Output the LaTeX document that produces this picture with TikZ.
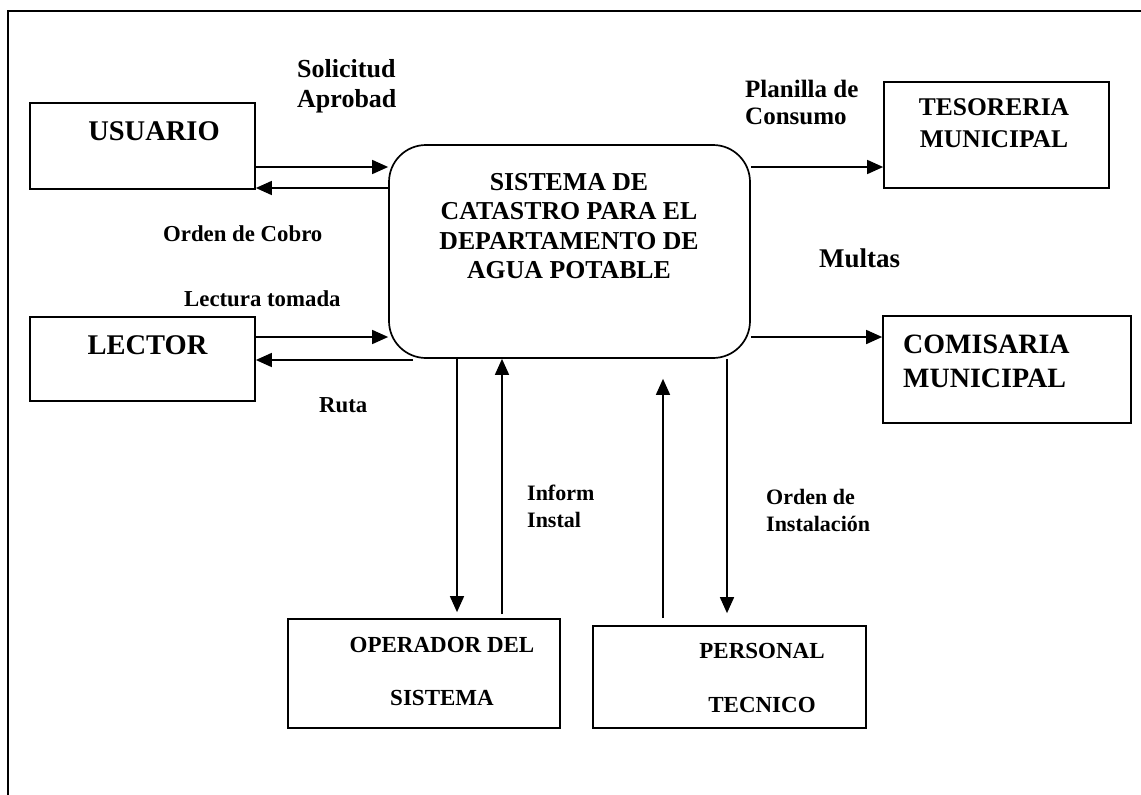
\documentclass[tikz,border=0pt]{standalone}
\usepackage{fontspec}
\setmainfont{Liberation Serif}
\usetikzlibrary{arrows.meta}
\begin{document}
\begin{tikzpicture}[x=1pt,y=-1pt,
  box/.style={draw, line width=1.7pt, rectangle, inner sep=0pt},
  arr/.style={-{Triangle[length=16pt,width=14pt]}, line width=1.6pt},
  txt/.style={inner sep=0pt, anchor=base, font=\bfseries\fontsize{#1}{#1}\selectfont},
  ltxt/.style={inner sep=0pt, anchor=base west, font=\bfseries\fontsize{#1}{#1}\selectfont}]
\useasboundingbox (0,0) rectangle (1141,795);
\fill[white] (0,0) rectangle (1141,795);
\draw[line width=2pt] (8,795) -- (8,11) -- (1141,11);

% boxes
\node[box, minimum width=225pt, minimum height=86pt] (usr) at (142.5,146) {};
\node[box, minimum width=225pt, minimum height=84pt] (lec) at (142.5,359) {};
\node[box, rounded corners=37pt, minimum width=361pt, minimum height=213pt] (sys) at (569.5,251.5) {};
\node[box, minimum width=225pt, minimum height=106pt] (tes) at (996.5,135) {};
\node[box, minimum width=248pt, minimum height=107pt] (com) at (1007,369.5) {};
\node[box, minimum width=272pt, minimum height=109pt] (ope) at (424,673.5) {};
\node[box, minimum width=273pt, minimum height=102pt] (per) at (729.5,677) {};

% box texts
\node[txt=28.5] (tusr) at (154,140) {USUARIO};
\node[txt=28.5] (tlec) at (147.5,354) {LECTOR};
\node[txt=25.8] (tsys1) at (569,190) {SISTEMA DE};
\node[txt=25.8] (tsys2) at (569,219.5) {CATASTRO PARA EL};
\node[txt=25.8] (tsys3) at (569,249) {DEPARTAMENTO DE};
\node[txt=25.8] (tsys4) at (569,278.5) {AGUA POTABLE};
\node[txt=25.5] (ttes1) at (994,115) {TESORERIA};
\node[txt=25.5] (ttes2) at (994,147) {MUNICIPAL};
\node[ltxt=28] (tcom1) at (903,353) {COMISARIA};
\node[ltxt=28] (tcom2) at (903,387) {MUNICIPAL};
\node[txt=23] (tope1) at (442,652) {OPERADOR DEL};
\node[txt=23] (tope2) at (442,705) {SISTEMA};
\node[txt=23] (tper1) at (762,658) {PERSONAL};
\node[txt=23] (tper2) at (762,712) {TECNICO};

% labels
\node[ltxt=26] (l1a) at (297,77) {Solicitud};
\node[ltxt=26] (l1b) at (297,107) {Aprobad};
\node[ltxt=22.8] (l2) at (163,241) {Orden de Cobro};
\node[ltxt=22.8] (l3) at (184,306) {Lectura tomada};
\node[ltxt=22.8] (l4) at (319,412) {Ruta};
\node[ltxt=25] (l5a) at (745,97) {Planilla de};
\node[ltxt=25] (l5b) at (745,124) {Consumo};
\node[ltxt=27] (l6) at (819,267) {Multas};
\node[ltxt=22] (l7a) at (527,500) {Inform};
\node[ltxt=22] (l7b) at (527,527) {Instal};
\node[ltxt=22] (l8a) at (766,504) {Orden de};
\node[ltxt=22] (l8b) at (766,531) {Instalación};

% connectors
\draw[arr] (usr.east |- 0,167) -- (sys.west |- 0,167);
\draw[arr] (sys.west |- 0,188) -- (usr.east |- 0,188);
\draw[arr] (lec.east |- 0,337) -- (sys.west |- 0,337);
\coordinate (rs) at (413,360);
\draw[arr] (rs) -- (lec.east |- rs);
\draw[arr] (sys.east |- 0,167) -- (tes.west |- 0,167);
\draw[arr] (sys.east |- 0,337) -- (com.west |- 0,337);
\draw[arr, shorten >=6pt] (sys.south -| 457,0) -- (ope.north -| 457,0);
\draw[arr, shorten <=4pt] (ope.north -| 502,0) -- (sys.south -| 502,0);
\draw[arr, shorten <=7pt, shorten >=20pt] (per.north -| 663,0) -- (sys.south -| 663,0);
\draw[arr, shorten >=12pt] (sys.south -| 727,0) -- (per.north -| 727,0);
\end{tikzpicture}
\end{document}
